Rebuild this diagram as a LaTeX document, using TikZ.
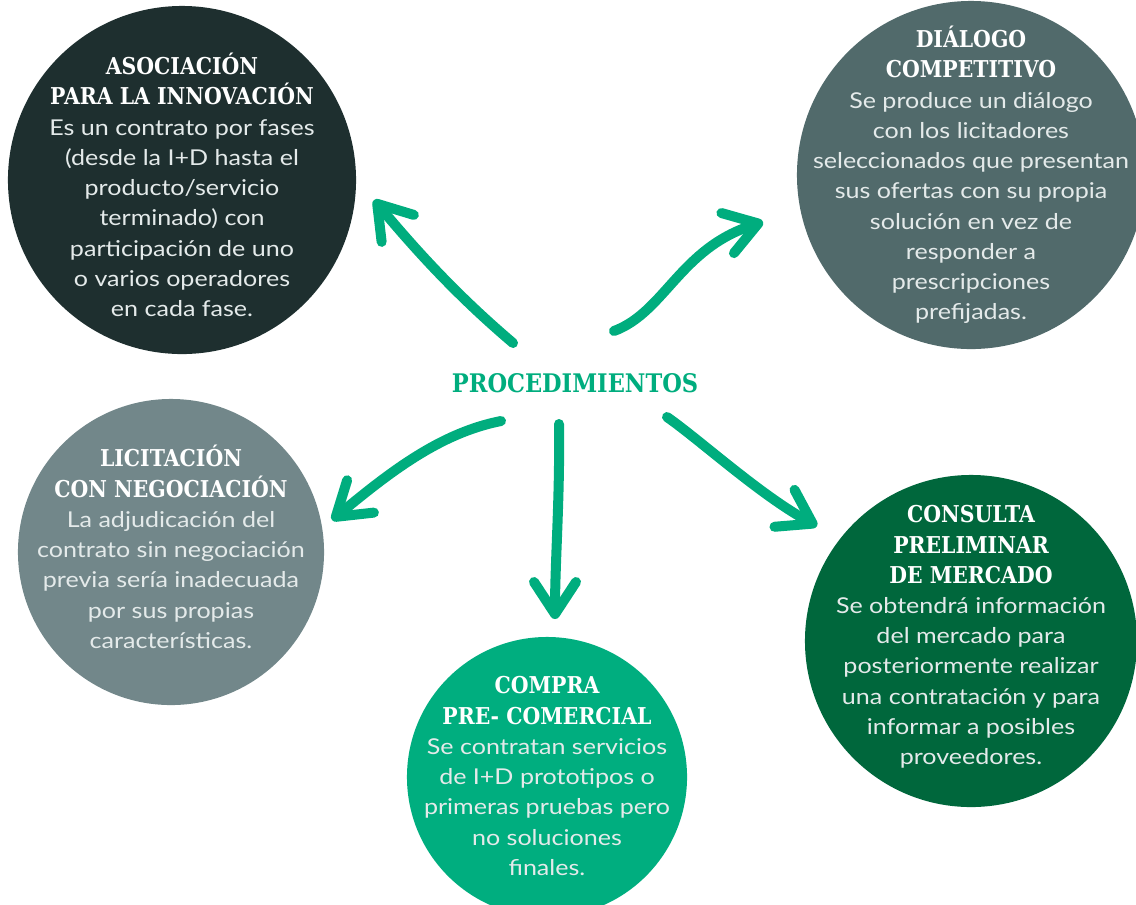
\documentclass[tikz,border=0pt]{standalone}
\usepackage{fontspec}
\setmainfont{Lato}[FakeStretch=1.15]
\newfontfamily\slabfont[FakeStretch=0.88]{DejaVu Serif}
\usetikzlibrary{arrows.meta}

\definecolor{asocol}{HTML}{1E2F2F}
\definecolor{diacol}{HTML}{516A6B}
\definecolor{liccol}{HTML}{72878A}
\definecolor{comcol}{HTML}{00AE7F}
\definecolor{concol}{HTML}{00673C}
\definecolor{procgreen}{HTML}{00AD7E}
\definecolor{blurbgray}{HTML}{E4EAEA}

\newcommand\hd[1]{{\slabfont\bfseries\color{white}\fontsize{16.5}{21.5}\selectfont #1}}

\tikzset{
  bubble/.style = {circle, minimum size=#1, inner sep=0pt},
  blurb/.style = {align=center, text=blurbgray, inner sep=0pt,
    font=\fontsize{15.5}{21.5}\selectfont},
  arrw/.style = {draw=procgreen, line width=0.25cm, line cap=round,
    -{Straight Barb[length=0.8cm, width=1.05cm, round]}}
}

\begin{document}
\begin{tikzpicture}[x=0.025cm, y=-0.025cm]
  \useasboundingbox (0,0) rectangle (1136,904);
  \clip (0,0) rectangle (1136,904);

  % the five procedures
  \node[bubble=8.7cm, fill=asocol] (aso) at (182,180) {};
  \node[bubble=8.7cm, fill=diacol] (dia) at (971,175) {};
  \node[bubble=7.65cm, fill=liccol] (lic) at (171,552) {};
  \node[bubble=7cm, fill=comcol] (com) at (547,777) {};
  \node[bubble=8.3cm, fill=concol] (con) at (971,641) {};

  \node[blurb] (aso-t) at (182,185) {\hd{ASOCIACIÓN}\\\hd{PARA LA INNOVACIÓN}\\
    Es un contrato por fases\\(desde la I+D hasta el\\producto/servicio\\
    terminado) con\\participación de uno\\o varios operadores\\en cada fase.};
  \node[blurb] (dia-t) at (971,175) {\hd{DIÁLOGO}\\\hd{COMPETITIVO}\\
    Se produce un diálogo\\con los licitadores\\seleccionados que presentan\\
    sus ofertas con su propia\\solución en vez de\\responder a\\
    prescripciones\\prefijadas.};
  \node[blurb] (lic-t) at (171,547) {\hd{LICITACIÓN}\\\hd{CON NEGOCIACIÓN}\\
    La adjudicación del\\contrato sin negociación\\previa sería inadecuada\\
    por sus propias\\características.};
  \node[blurb] (com-t) at (547,776) {\hd{COMPRA}\\\hd{PRE- COMERCIAL}\\
    Se contratan servicios\\de I+D prototipos o\\primeras pruebas pero\\
    no soluciones\\finales.};
  \node[blurb] (con-t) at (971,637) {\hd{CONSULTA}\\\hd{PRELIMINAR}\\\hd{DE MERCADO}\\
    Se obtendrá información\\del mercado para\\posteriormente realizar\\
    una contratación y para\\informar a posibles\\proveedores.};

  % centre
  \node[text=procgreen, font=\slabfont\bfseries\fontsize{18.2}{22}\selectfont]
    (proc) at (575,383) {PROCEDIMIENTOS};

  \coordinate (ul-s) at (513,343);  \coordinate (ul-e) at (374,200);
  \coordinate (ur-s) at (614,331);  \coordinate (ur-e) at (763,222);
  \coordinate (ll-s) at (501,421);  \coordinate (ll-e) at (332,520);
  \coordinate (dn-s) at (559,424);  \coordinate (dn-e) at (555,619);
  \coordinate (lr-s) at (667,417);  \coordinate (lr-e) at (817,526);

  \draw[arrw] (ul-s) .. controls (460,298) and (420,255) .. (ul-e);
  \draw[arrw] (ur-s) .. controls (665,312) and (680,248) .. (ur-e);
  \draw[arrw] (ll-s) .. controls (440,433) and (390,472) .. (ll-e);
  \draw[arrw] (dn-s) .. controls (560,500) and (555,560) .. (dn-e);
  \draw[arrw] (lr-s) .. controls (700,440) and (760,495) .. (lr-e);
\end{tikzpicture}
\end{document}
